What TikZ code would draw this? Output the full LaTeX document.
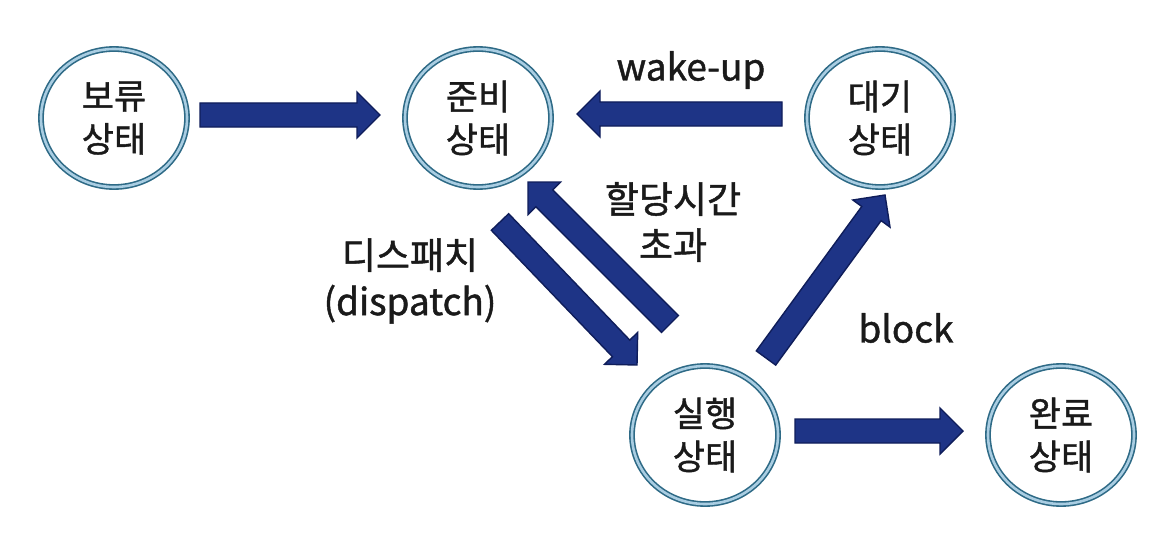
\documentclass[tikz,border=0pt]{standalone}
\usepackage{fontspec}
\setmainfont{Noto Sans CJK KR}[UprightFeatures={FakeBold=1.2}]
\usetikzlibrary{shapes.geometric,calc}
\definecolor{ringdark}{HTML}{2E6A86}
\definecolor{ringlight}{HTML}{A9CDE2}
\definecolor{navy}{HTML}{1E3486}
\definecolor{navydark}{HTML}{0F1D5A}
\definecolor{ink}{HTML}{1A1A1A}
\newcommand\blockarrow[2]{%
  \coordinate (hb) at ($(#2)!23pt!(#1)$);
  \filldraw[fill=navy, draw=navydark, line width=1.4pt, line join=miter]
    ($(#1)!12pt!90:(#2)$) -- ($(hb)!12pt!-90:(#1)$) -- ($(hb)!23pt!-90:(#1)$) --
    (#2) -- ($(hb)!23pt!90:(#1)$) -- ($(hb)!12pt!90:(#1)$) --
    ($(#1)!12pt!-90:(#2)$) -- cycle;}
\begin{document}
\begin{tikzpicture}[x=1pt,y=-1pt,
  state/.style={ellipse, draw=ringdark, line width=1.6pt, double=ringlight,
    double distance=2.6pt, fill=white, minimum width=146pt, minimum height=138pt,
    inner sep=0pt, align=center, font=\fontsize{35}{43}\selectfont, text=ink},
  lbl/.style={align=center, font=\fontsize{37}{46}\selectfont, text=ink}]
\useasboundingbox[fill=white] (0,0) rectangle (1171,543);
\node[state] (bo) at (114,118) {보류\\상태};
\node[state] (jun) at (478,118) {준비\\상태};
\node[state] (dae) at (880,118) {대기\\상태};
\node[state] (sil) at (705,435) {실행\\상태};
\node[state] (wan) at (1061,435) {완료\\상태};
% arrow end points
\coordinate (a1s) at (200,115); \coordinate (a1t) at (380,115);
\coordinate (a2s) at (782,114); \coordinate (a2t) at (577,114);
\coordinate (a3s) at (500,222); \coordinate (a3t) at (637,365);
\coordinate (a4s) at (670,324); \coordinate (a4t) at (528,182);
\coordinate (a5s) at (766,358); \coordinate (a5t) at (885,195);
\coordinate (a6s) at (795,431); \coordinate (a6t) at (963,431);
\blockarrow{a1s}{a1t}
\blockarrow{a2s}{a2t}
\blockarrow{a3s}{a3t}
\blockarrow{a4s}{a4t}
\blockarrow{a5s}{a5t}
\blockarrow{a6s}{a6t}
\node[lbl] (wk) at (691,70) {wake-up};
\node[lbl] (to) at (673,222) {할당시간\\초과};
\node[lbl] (dp) at (410,281) {디스패치\\(dispatch)};
\node[lbl] (bl) at (906,328) {block};
\end{tikzpicture}
\end{document}
